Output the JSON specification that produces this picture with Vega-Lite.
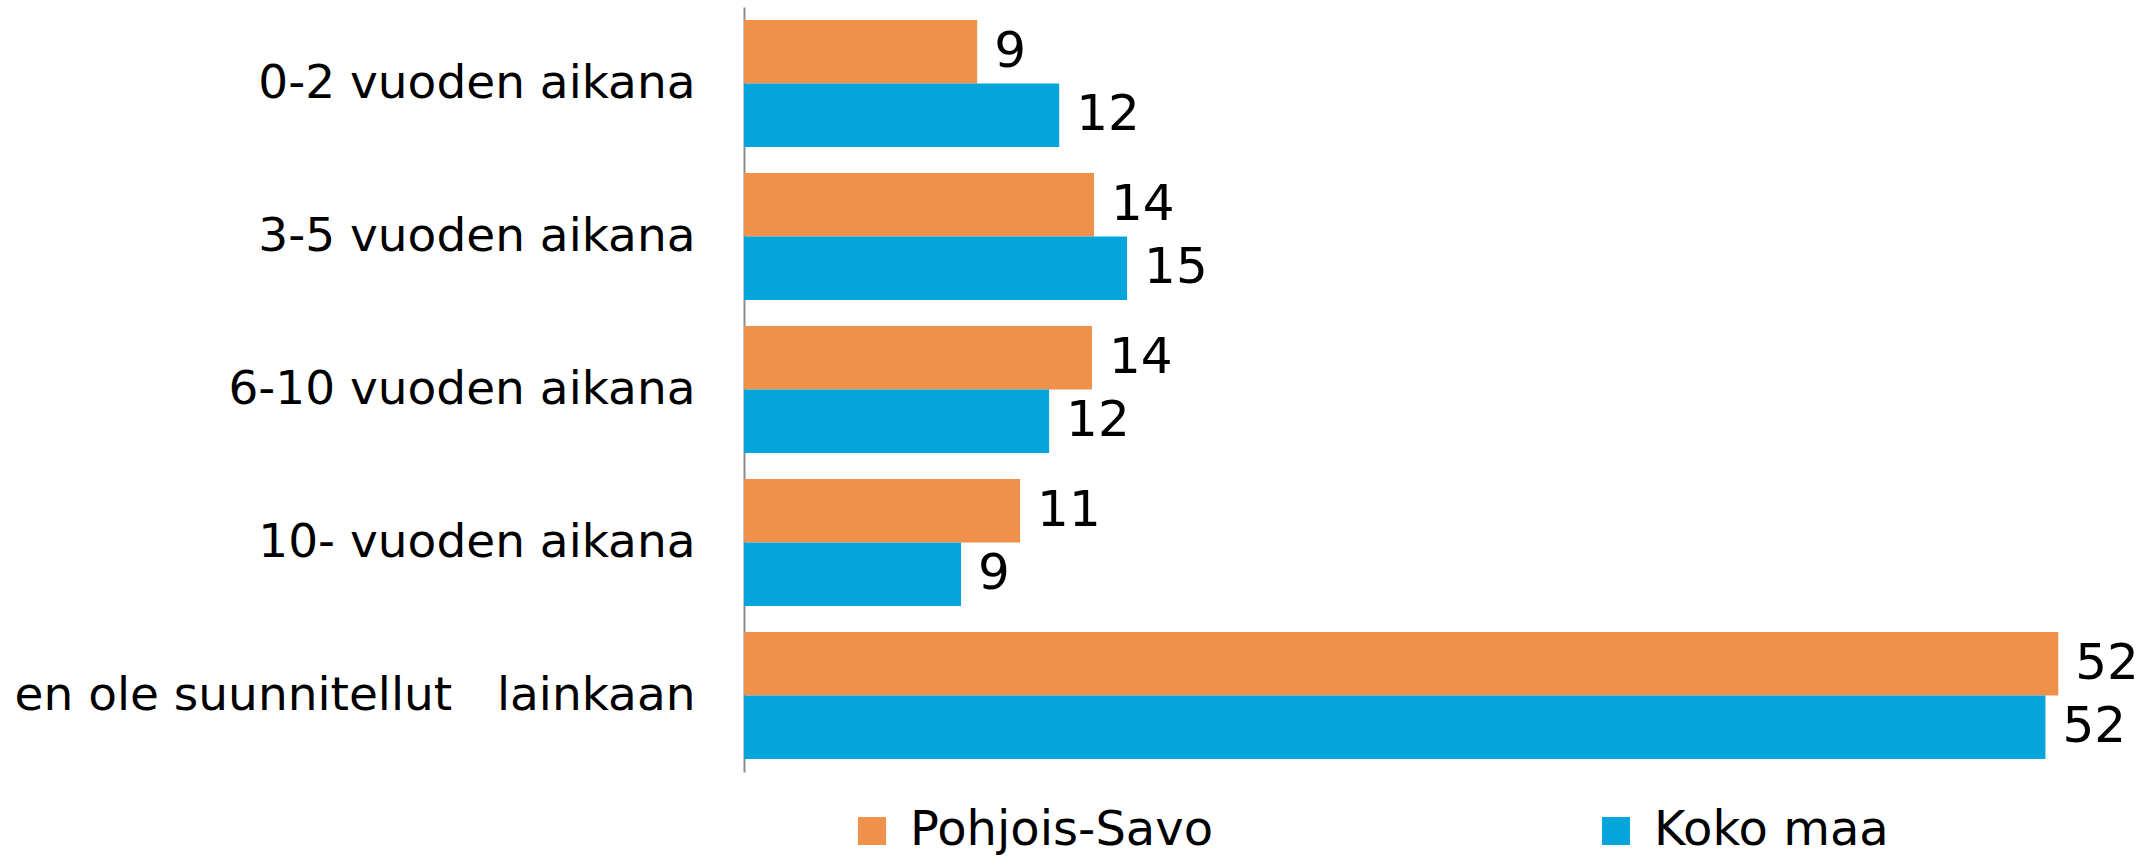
{
  "$schema": "https://vega.github.io/schema/vega-lite/v6.json",
  "width": 1388,
  "height": 765,
  "autosize": {"type": "none"},
  "padding": {"left": 744, "top": 7, "right": 9, "bottom": 84},
  "background": "white",
  "config": {"view": {"stroke": null}, "font": "DejaVu Sans"},
  "data": {
    "values": [
      {"cat": "0-2 vuoden aikana", "series": "Pohjois-Savo", "value": 9.24},
      {"cat": "0-2 vuoden aikana", "series": "Koko maa", "value": 12.49},
      {"cat": "3-5 vuoden aikana", "series": "Pohjois-Savo", "value": 13.87},
      {"cat": "3-5 vuoden aikana", "series": "Koko maa", "value": 15.18},
      {"cat": "6-10 vuoden aikana", "series": "Pohjois-Savo", "value": 13.79},
      {"cat": "6-10 vuoden aikana", "series": "Koko maa", "value": 12.09},
      {"cat": "10- vuoden aikana", "series": "Pohjois-Savo", "value": 10.94},
      {"cat": "10- vuoden aikana", "series": "Koko maa", "value": 8.6},
      {"cat": "en ole suunnitellut\u00a0\u00a0 lainkaan", "series": "Pohjois-Savo", "value": 52.08},
      {"cat": "en ole suunnitellut\u00a0\u00a0 lainkaan", "series": "Koko maa", "value": 51.57}
    ]
  },
  "encoding": {
    "y": {
      "field": "cat",
      "type": "nominal",
      "sort": ["0-2 vuoden aikana", "3-5 vuoden aikana", "6-10 vuoden aikana", "10- vuoden aikana", "en ole suunnitellut\u00a0\u00a0 lainkaan"],
      "scale": {"paddingInner": 0, "paddingOuter": 0},
      "axis": {
        "title": null,
        "labelFont": "DejaVu Sans",
        "labelFontSize": 47,
        "labelColor": "#000000",
        "labelPadding": 49,
        "labelLimit": 900,
        "ticks": false,
        "domainColor": "#8c8c8c",
        "domainWidth": 2
      }
    },
    "yOffset": {
      "field": "series",
      "type": "nominal",
      "sort": ["Pohjois-Savo", "Koko maa"],
      "scale": {"paddingInner": 0, "paddingOuter": 0.2047}
    },
    "x": {
      "field": "value",
      "type": "quantitative",
      "scale": {"domain": [0, 55]},
      "axis": null
    }
  },
  "layer": [
    {
      "mark": {"type": "bar"},
      "encoding": {
        "color": {
          "field": "series",
          "type": "nominal",
          "sort": ["Pohjois-Savo", "Koko maa"],
          "scale": {"domain": ["Pohjois-Savo", "Koko maa"], "range": ["#F0914B", "#03A5DA"]},
          "legend": {
            "orient": "none",
            "legendX": 104,
            "legendY": 800,
            "direction": "horizontal",
            "title": null,
            "symbolType": "square",
            "symbolSize": 784,
            "symbolStrokeWidth": 0,
            "labelFont": "DejaVu Sans",
            "labelFontSize": 48,
            "labelColor": "#000000",
            "labelOffset": 14,
            "labelLimit": 900,
            "columnPadding": 378,
            "padding": 0
          }
        }
      }
    },
    {
      "mark": {"type": "text", "align": "left", "baseline": "middle", "dx": 17, "fontSize": 50, "font": "DejaVu Sans", "color": "#000000"},
      "encoding": {
        "text": {"field": "value", "type": "quantitative", "format": ".0f"}
      }
    }
  ]
}
